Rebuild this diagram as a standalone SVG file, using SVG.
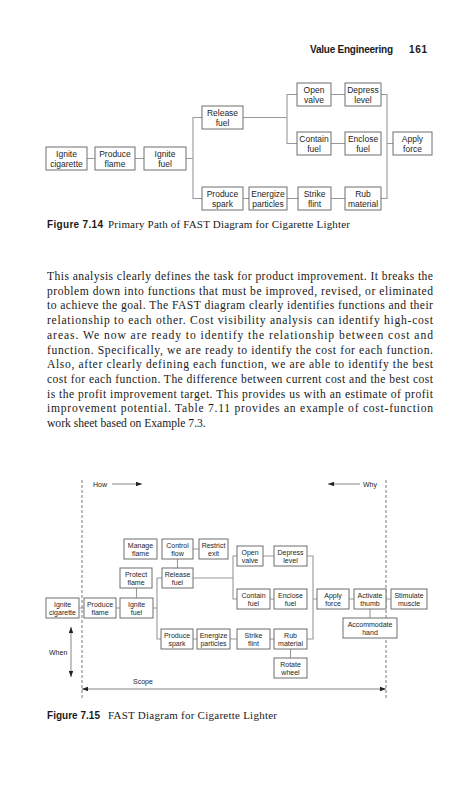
<svg xmlns="http://www.w3.org/2000/svg" width="472" height="800" viewBox="0 0 472 800">
<style>
.bx{fill:#fff;stroke:#6f6f6f;stroke-width:1}
.t1{font-family:"Liberation Sans",Arial,sans-serif;font-size:8.5px;fill:#1e1e1e;text-anchor:middle}
.t2{font-family:"Liberation Sans",Arial,sans-serif;font-size:7px;fill:#1e1e1e;text-anchor:middle}
.cn{fill:none;stroke:#999;stroke-width:1.1}
.dash{fill:none;stroke:#555;stroke-width:0.8;stroke-dasharray:3,2}
.ar{fill:none;stroke:#666;stroke-width:0.8}
.lab{font-family:"Liberation Sans",Arial,sans-serif;font-size:7px;fill:#222}
.body{font-family:"Liberation Serif","Times New Roman",serif;font-size:11.6px;fill:#1a1a1a}
.capb{font-family:"Liberation Sans",Arial,sans-serif;font-size:10px;font-weight:bold;fill:#1a1a1a}
.caps{font-family:"Liberation Serif","Times New Roman",serif;font-size:11px;fill:#1a1a1a}
</style>
<defs>
<marker id="ah" viewBox="0 0 8 6" refX="8" refY="3" markerWidth="6" markerHeight="4.5" markerUnits="userSpaceOnUse" orient="auto-start-reverse"><path d="M0,0 L8,3 L0,6 z" fill="#222"/></marker>
</defs>

<g id="header">
<text x="310" y="53" class="capb" textLength="83">Value Engineering</text>
<text x="409" y="53" class="capb" textLength="18">161</text>
</g>

<g id="connectors-714" class="cn">
<path d="M87,158.5H95M135,158.5H144"/>
<path d="M186,158.5H193M202,117.5H193V198.5H202"/>
<path d="M243,117.5H287M297,94.5H287V143.5H297"/>
<path d="M331,94.5H345M331,143.5H345"/>
<path d="M381,94.5H387V198.5H381M387,143.5H393"/>
<path d="M243,198.5H249M287,198.5H298M331,198.5H345"/>
</g>

<g id="f14-ignite-cigarette"><rect class="bx" x="46" y="147" width="41" height="23"/><text class="t1" x="66.5" y="157">Ignite</text><text class="t1" x="66.5" y="167">cigarette</text></g>
<g id="f14-produce-flame"><rect class="bx" x="95" y="147" width="40" height="23"/><text class="t1" x="115" y="157">Produce</text><text class="t1" x="115" y="167">flame</text></g>
<g id="f14-ignite-fuel"><rect class="bx" x="144" y="147" width="42" height="23"/><text class="t1" x="165" y="157">Ignite</text><text class="t1" x="165" y="167">fuel</text></g>
<g id="f14-release-fuel"><rect class="bx" x="202" y="106" width="41" height="23"/><text class="t1" x="222.5" y="116">Release</text><text class="t1" x="222.5" y="126">fuel</text></g>
<g id="f14-produce-spark"><rect class="bx" x="202" y="187" width="41" height="23"/><text class="t1" x="222.5" y="197">Produce</text><text class="t1" x="222.5" y="207">spark</text></g>
<g id="f14-open-valve"><rect class="bx" x="297" y="83" width="34" height="23"/><text class="t1" x="314" y="93">Open</text><text class="t1" x="314" y="103">valve</text></g>
<g id="f14-depress-level"><rect class="bx" x="345" y="83" width="36" height="23"/><text class="t1" x="363" y="93">Depress</text><text class="t1" x="363" y="103">level</text></g>
<g id="f14-contain-fuel"><rect class="bx" x="297" y="132" width="34" height="23"/><text class="t1" x="314" y="142">Contain</text><text class="t1" x="314" y="152">fuel</text></g>
<g id="f14-enclose-fuel"><rect class="bx" x="345" y="132" width="36" height="23"/><text class="t1" x="363" y="142">Enclose</text><text class="t1" x="363" y="152">fuel</text></g>
<g id="f14-apply-force"><rect class="bx" x="393" y="132" width="39" height="23"/><text class="t1" x="412.5" y="142">Apply</text><text class="t1" x="412.5" y="152">force</text></g>
<g id="f14-energize-particles"><rect class="bx" x="249" y="187" width="38" height="23"/><text class="t1" x="268" y="197">Energize</text><text class="t1" x="268" y="207">particles</text></g>
<g id="f14-strike-flint"><rect class="bx" x="298" y="187" width="33" height="23"/><text class="t1" x="314.5" y="197">Strike</text><text class="t1" x="314.5" y="207">flint</text></g>
<g id="f14-rub-material"><rect class="bx" x="345" y="187" width="36" height="23"/><text class="t1" x="363" y="197">Rub</text><text class="t1" x="363" y="207">material</text></g>

<g id="caption-714">
<text x="47" y="228" class="capb" textLength="56">Figure 7.14</text>
<text x="108" y="228" class="caps" textLength="242">Primary Path of FAST Diagram for Cigarette Lighter</text>
</g>

<g id="paragraph" class="body">
<text x="47" y="280" textLength="386" lengthAdjust="spacing">This analysis clearly defines the task for product improvement. It breaks the</text>
<text x="47" y="294.7" textLength="386" lengthAdjust="spacing">problem down into functions that must be improved, revised, or eliminated</text>
<text x="47" y="309.4" textLength="386" lengthAdjust="spacing">to achieve the goal. The FAST diagram clearly identifies functions and their</text>
<text x="47" y="324.1" textLength="386" lengthAdjust="spacing">relationship to each other. Cost visibility analysis can identify high-cost</text>
<text x="47" y="338.8" textLength="386" lengthAdjust="spacing">areas. We now are ready to identify the relationship between cost and</text>
<text x="47" y="353.5" textLength="386" lengthAdjust="spacing">function. Specifically, we are ready to identify the cost for each function.</text>
<text x="47" y="368.2" textLength="386" lengthAdjust="spacing">Also, after clearly defining each function, we are able to identify the best</text>
<text x="47" y="382.9" textLength="386" lengthAdjust="spacing">cost for each function. The difference between current cost and the best cost</text>
<text x="47" y="397.6" textLength="386" lengthAdjust="spacing">is the profit improvement target. This provides us with an estimate of profit</text>
<text x="47" y="412.3" textLength="386" lengthAdjust="spacing">improvement potential. Table 7.11 provides an example of cost-function</text>
<text x="47" y="427">work sheet based on Example 7.3.</text>
</g>

<g id="scope-lines">
<path class="dash" d="M82,480V700M386,480V700"/>
<path class="ar" d="M112,484H142" marker-end="url(#ah)"/>
<path class="ar" d="M360,484H328" marker-end="url(#ah)"/>
<path class="ar" d="M71,627V677" marker-start="url(#ah)" marker-end="url(#ah)"/>
<path class="ar" d="M82,689H386" marker-start="url(#ah)" marker-end="url(#ah)"/>
<text class="lab" x="93" y="487">How</text>
<text class="lab" x="363" y="487">Why</text>
<text class="lab" x="49" y="655">When</text>
<text class="lab" x="133" y="684">Scope</text>
</g>

<g id="connectors-715" class="cn">
<path d="M193,549H199M177.5,559V568M136.5,588V598"/>
<path d="M193,578H233M237,556H233V599H237"/>
<path d="M263,556H274M270,599H274"/>
<path d="M307,556H313V639H307M313,599H317"/>
<path d="M349,599H354M386,599H391M370,609V618"/>
<path d="M79,608H84M116,608H120"/>
<path d="M153,608H157M162,578H157V639H161"/>
<path d="M193,639H197M230,639H237M270,639H274M290.5,649V658"/>
</g>

<g id="f15-manage-flame"><rect class="bx" x="124" y="539" width="33" height="20"/><text class="t2" x="140.5" y="547.5">Manage</text><text class="t2" x="140.5" y="555.5">flame</text></g>
<g id="f15-control-flow"><rect class="bx" x="162" y="539" width="31" height="20"/><text class="t2" x="177.5" y="547.5">Control</text><text class="t2" x="177.5" y="555.5">flow</text></g>
<g id="f15-restrict-exit"><rect class="bx" x="199" y="539" width="29" height="20"/><text class="t2" x="213.5" y="547.5">Restrict</text><text class="t2" x="213.5" y="555.5">exit</text></g>
<g id="f15-protect-flame"><rect class="bx" x="120" y="568" width="32" height="20"/><text class="t2" x="136" y="576.5">Protect</text><text class="t2" x="136" y="584.5">flame</text></g>
<g id="f15-release-fuel"><rect class="bx" x="162" y="568" width="31" height="20"/><text class="t2" x="177.5" y="576.5">Release</text><text class="t2" x="177.5" y="584.5">fuel</text></g>
<g id="f15-open-valve"><rect class="bx" x="237" y="546" width="26" height="20"/><text class="t2" x="250" y="554.5">Open</text><text class="t2" x="250" y="562.5">valve</text></g>
<g id="f15-depress-level"><rect class="bx" x="274" y="546" width="33" height="20"/><text class="t2" x="290.5" y="554.5">Depress</text><text class="t2" x="290.5" y="562.5">level</text></g>
<g id="f15-contain-fuel"><rect class="bx" x="237" y="589" width="33" height="20"/><text class="t2" x="253.5" y="597.5">Contain</text><text class="t2" x="253.5" y="605.5">fuel</text></g>
<g id="f15-enclose-fuel"><rect class="bx" x="274" y="589" width="33" height="20"/><text class="t2" x="290.5" y="597.5">Enclose</text><text class="t2" x="290.5" y="605.5">fuel</text></g>
<g id="f15-apply-force"><rect class="bx" x="317" y="589" width="32" height="20"/><text class="t2" x="333" y="597.5">Apply</text><text class="t2" x="333" y="605.5">force</text></g>
<g id="f15-activate-thumb"><rect class="bx" x="354" y="589" width="32" height="20"/><text class="t2" x="370" y="597.5">Activate</text><text class="t2" x="370" y="605.5">thumb</text></g>
<g id="f15-stimulate-muscle"><rect class="bx" x="391" y="589" width="36" height="20"/><text class="t2" x="409" y="597.5">Stimulate</text><text class="t2" x="409" y="605.5">muscle</text></g>
<g id="f15-accommodate-hand"><rect class="bx" x="343" y="618" width="54" height="20"/><text class="t2" x="370" y="626.5">Accommodate</text><text class="t2" x="370" y="634.5">hand</text></g>
<g id="f15-ignite-cigarette"><rect class="bx" x="46" y="598" width="33" height="20"/><text class="t2" x="62.5" y="606.5">Ignite</text><text class="t2" x="62.5" y="614.5">cigarette</text></g>
<g id="f15-produce-flame"><rect class="bx" x="84" y="598" width="32" height="20"/><text class="t2" x="100" y="606.5">Produce</text><text class="t2" x="100" y="614.5">flame</text></g>
<g id="f15-ignite-fuel"><rect class="bx" x="120" y="598" width="33" height="20"/><text class="t2" x="136.5" y="606.5">Ignite</text><text class="t2" x="136.5" y="614.5">fuel</text></g>
<g id="f15-produce-spark"><rect class="bx" x="161" y="629" width="32" height="20"/><text class="t2" x="177" y="637.5">Produce</text><text class="t2" x="177" y="645.5">spark</text></g>
<g id="f15-energize-particles"><rect class="bx" x="197" y="629" width="33" height="20"/><text class="t2" x="213.5" y="637.5">Energize</text><text class="t2" x="213.5" y="645.5">particles</text></g>
<g id="f15-strike-flint"><rect class="bx" x="237" y="629" width="33" height="20"/><text class="t2" x="253.5" y="637.5">Strike</text><text class="t2" x="253.5" y="645.5">flint</text></g>
<g id="f15-rub-material"><rect class="bx" x="274" y="629" width="33" height="20"/><text class="t2" x="290.5" y="637.5">Rub</text><text class="t2" x="290.5" y="645.5">material</text></g>
<g id="f15-rotate-wheel"><rect class="bx" x="274" y="658" width="33" height="20"/><text class="t2" x="290.5" y="666.5">Rotate</text><text class="t2" x="290.5" y="674.5">wheel</text></g>

<g id="caption-715">
<text x="47" y="719" class="capb" textLength="53">Figure 7.15</text>
<text x="108" y="719" class="caps" textLength="169">FAST Diagram for Cigarette Lighter</text>
</g>
</svg>
